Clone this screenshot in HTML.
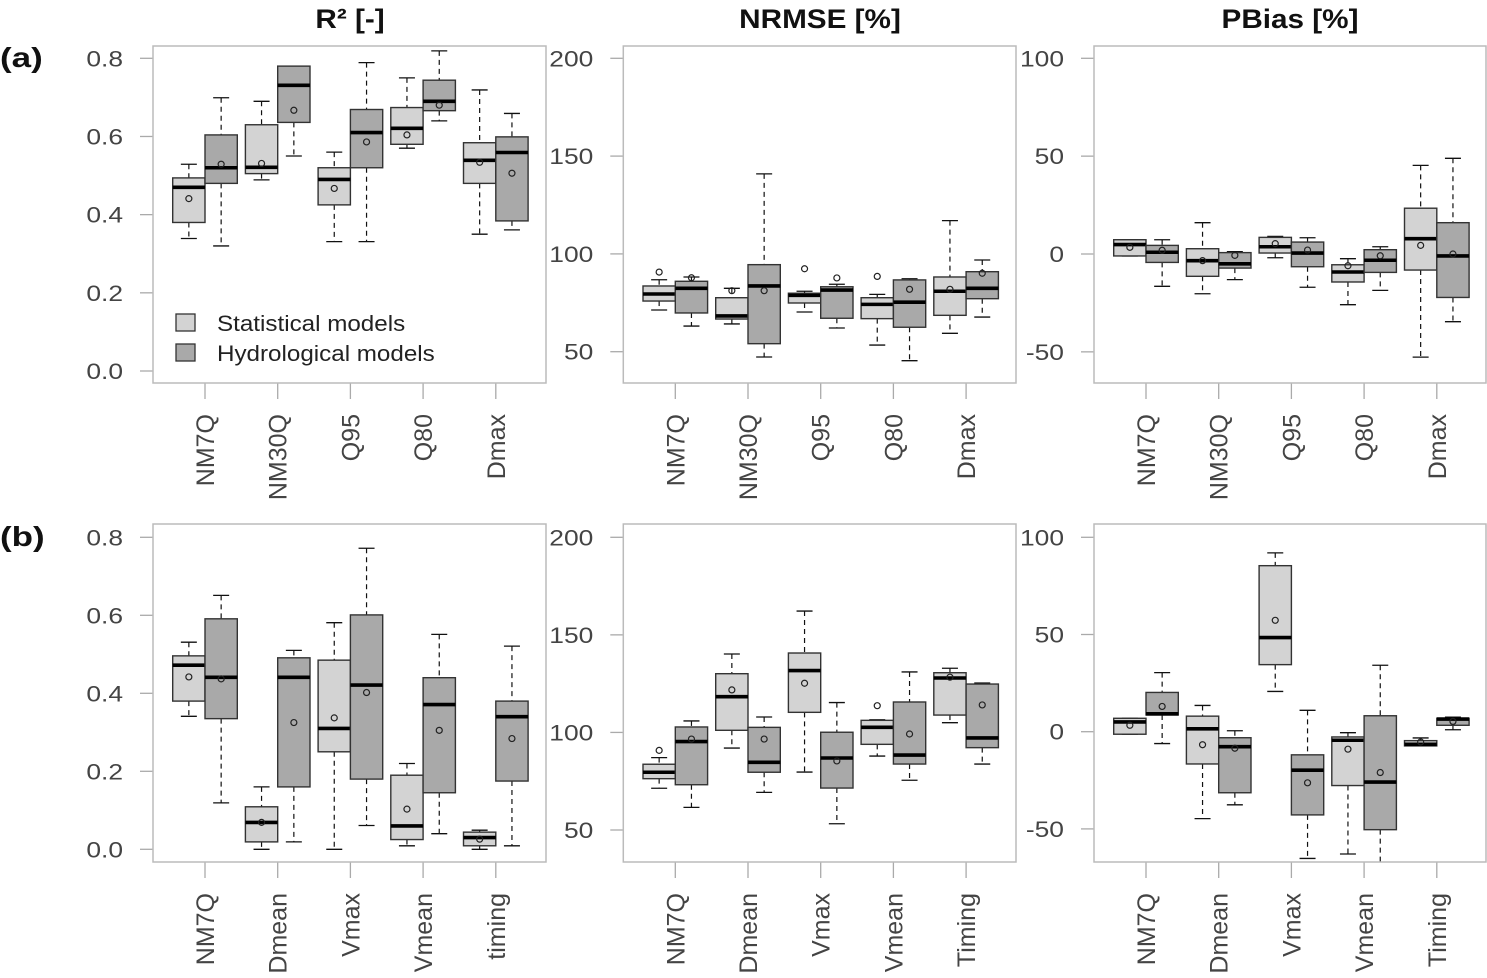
<!DOCTYPE html>
<html><head><meta charset="utf-8"><style>
html,body{margin:0;padding:0;background:#fff;}
svg{display:block;font-family:"Liberation Sans",Arial,sans-serif;}
</style></head><body>
<svg id="fig" width="1487" height="978" viewBox="0 0 1487 978" xmlns="http://www.w3.org/2000/svg">
<text transform="translate(350,28) scale(1.1,1)" font-size="27" font-weight="bold" text-anchor="middle" fill="#111">R² [-]</text>
<text transform="translate(820,28) scale(1.1,1)" font-size="27" font-weight="bold" text-anchor="middle" fill="#111">NRMSE [%]</text>
<text transform="translate(1290,28) scale(1.1,1)" font-size="27" font-weight="bold" text-anchor="middle" fill="#111">PBias [%]</text>
<text transform="translate(0,67) scale(1.25,1)" font-size="28" font-weight="bold" fill="#111">(a)</text>
<text transform="translate(0,546) scale(1.25,1)" font-size="28" font-weight="bold" fill="#111">(b)</text>
</svg>
<script>
// categories
const catsA = ["NM7Q","NM30Q","Q95","Q80","Dmax"];
const catsB1 = ["NM7Q","Dmean","Vmax","Vmean","timing"];
const catsB = ["NM7Q","Dmean","Vmax","Vmean","Timing"];
// tick labels
const ticksR2 = [0,0.2,0.4,0.6,0.8];
const ticksNRMSE = [50,100,150,200];
const ticksPB = [-50,0,50,100];
// stats: [lowWhisker, q1, median, q3, highWhisker, mean]
const a1Stat = [[0.339,0.380,0.470,0.494,0.529,0.441],[0.489,0.505,0.521,0.630,0.690,0.531],[0.331,0.425,0.490,0.520,0.560,0.467],[0.570,0.580,0.621,0.674,0.750,0.604],[0.350,0.480,0.539,0.584,0.719,0.534]];
const a1Hyd = [[0.320,0.480,0.520,0.604,0.699,0.529],[0.550,0.636,0.731,0.780,0.780,0.667],[0.331,0.520,0.610,0.669,0.789,0.586],[0.640,0.666,0.690,0.744,0.819,0.680],[0.361,0.384,0.559,0.599,0.659,0.506]];
const a2Stat = [[71.3,75.9,79.5,83.6,86.8,90.7],[64.2,66.7,68.3,77.6,82.4,81.2],[70.3,74.9,78.8,79.9,80.9,92.4],[53.4,66.9,74.2,77.6,79.3,88.5],[59.4,68.6,80.9,88.2,117.0,81.9]];
const a2Hyd = [[63.1,69.8,82.4,86.0,88.2,87.8],[47.3,54.1,83.6,94.5,140.9,81.2],[62.1,67.1,81.5,83.2,84.5,87.7],[45.4,62.5,75.3,86.7,87.3,81.9],[67.7,77.1,82.4,90.9,96.9,90.1]];
const a3Stat = [[-1.0,-1.0,4.8,7.3,7.3,3.4],[-20.3,-11.4,-3.4,2.7,16.0,-3.4],[-1.9,0.5,3.7,8.5,9.0,5.3],[-25.9,-14.3,-9.2,-5.5,-2.4,-6.0],[-52.7,-8.2,7.8,23.4,45.3,4.4]];
const a3Hyd = [[-16.5,-4.3,0.9,4.4,7.3,1.9],[-13.1,-7.2,-5.0,0.7,1.2,-0.7],[-17.0,-6.5,0.5,6.1,8.3,2.0],[-18.6,-9.4,-3.2,2.2,3.7,-0.9],[-34.6,-22.2,-1.0,16.0,48.9,0.0]];
const b1Stat = [[0.341,0.380,0.472,0.496,0.531,0.442],[0.0,0.019,0.069,0.109,0.160,0.069],[0.0,0.250,0.310,0.485,0.581,0.337],[0.009,0.025,0.060,0.190,0.220,0.103],[0.0,0.009,0.030,0.044,0.049,0.026]];
const b1Hyd = [[0.119,0.335,0.441,0.591,0.651,0.437],[0.019,0.160,0.441,0.491,0.510,0.325],[0.061,0.180,0.421,0.601,0.772,0.402],[0.040,0.145,0.371,0.440,0.551,0.305],[0.009,0.175,0.340,0.380,0.521,0.284]];
const b2Stat = [[71.4,76.3,79.6,83.7,87.1,90.8],[92.0,101.1,118.3,130.1,140.2,121.8],[79.7,110.3,131.7,140.7,162.2,125.2],[87.9,93.9,102.6,106.2,106.5,113.7],[105.0,108.9,127.9,130.6,132.9,128.3]];
const b2Hyd = [[61.6,73.2,95.3,102.8,105.9,96.6],[69.3,79.6,84.7,102.6,107.9,96.6],[53.2,71.5,86.9,100.1,115.3,85.4],[75.5,83.8,88.4,115.6,131.0,99.2],[83.8,92.2,97.2,124.8,125.3,114.1]];
const b3Stat = [[-1.3,-1.3,5.0,6.9,6.9,3.3],[-44.7,-16.6,1.5,8.0,13.5,-6.7],[20.7,34.5,48.4,85.4,92.0,57.3],[-62.9,-27.7,-4.4,-2.7,-0.5,-9.0],[-7.3,-7.3,-6.5,-4.6,-3.2,-5.3]];
const b3Hyd = [[-6.1,8.6,9.2,20.2,30.4,13.0],[-37.6,-31.4,-7.7,-3.1,0.5,-8.5],[-65.2,-42.8,-19.8,-11.9,11.0,-26.3],[-72.0,-50.4,-25.9,8.2,34.2,-21.0],[1.0,3.3,6.5,6.9,7.5,5.3]];

const NS = "http://www.w3.org/2000/svg";
const svg = document.getElementById("fig");
function mk(tag, attrs, parent){const e=document.createElementNS(NS,tag);for(const k in attrs)e.setAttribute(k,attrs[k]);(parent||svg).appendChild(e);return e;}

function panel(name, left, top, right, bottom, v0, p0, v1, p1, ticks, fmt, cats, stat, hyd, legend){
  const g = mk("g",{});
  
  
  const y = v => p0 + (v - v0) * (p1 - p0) / (v1 - v0);
  const cid = name + "-clip";
  const cp = mk("clipPath",{id:cid},g); mk("rect",{x:left,y:top,width:right-left,height:bottom-top},cp);
  ticks.forEach(t=>{
    const ty=y(t);
    const tl = mk("line",{x1:left-13,x2:left,y1:ty,y2:ty,stroke:"#aaa","stroke-width":1.3},g);
    
    
    const tx = mk("text",{transform:"translate("+(left-30)+","+(ty+8)+") scale(1.2,1)","font-size":22,"text-anchor":"end",fill:"#444"},g);
    
    
    tx.textContent = fmt(t);
  });
  const plot = mk("g",{"clip-path":"url(#"+cid+")"},g);
  const bw = 32.3;
  cats.forEach((c,i)=>{
    const cx = left + 52 + i*72.7;
    const tk = mk("line",{x1:cx,x2:cx,y1:bottom,y2:bottom+16,stroke:"#aaa","stroke-width":1.3},g);
    
    
    const lx = cx+9, ly = bottom+31;
    const lab = mk("text",{x:lx,y:ly,"font-size":25,"text-anchor":"end",fill:"#444",transform:"rotate(-90 "+lx+" "+ly+")"},g);
    
    
    lab.textContent = c;
    [[stat[i],"#d3d3d3",cx-bw/2,"statistical"],[hyd[i],"#a9a9a9",cx+bw/2,"hydrological"]].forEach(([s,col,bx,kind])=>{
      const b = mk("g",{},plot);
      
      
      const dash={stroke:"#111","stroke-width":1.2,"stroke-dasharray":"5,4"};
      mk("line",Object.assign({x1:bx,x2:bx,y1:y(s[4]),y2:y(s[3])},dash),b);
      mk("line",Object.assign({x1:bx,x2:bx,y1:y(s[1]),y2:y(s[0])},dash),b);
      mk("line",{x1:bx-8,x2:bx+8,y1:y(s[4]),y2:y(s[4]),stroke:"#111","stroke-width":1.3},b);
      mk("line",{x1:bx-8,x2:bx+8,y1:y(s[0]),y2:y(s[0]),stroke:"#111","stroke-width":1.3},b);
      mk("rect",{x:bx-bw/2,y:y(s[3]),width:bw,height:Math.max(0.5,y(s[1])-y(s[3])),fill:col,stroke:"#333","stroke-width":1.4},b);
      mk("line",{x1:bx-bw/2,x2:bx+bw/2,y1:y(s[2]),y2:y(s[2]),stroke:"#000","stroke-width":3.6},b);
      mk("circle",{cx:bx,cy:y(s[5]),r:3,fill:"none",stroke:"#222","stroke-width":1.2},b);
    });
  });
  const fr = mk("rect",{x:left,y:top,width:right-left,height:bottom-top,fill:"none",stroke:"#bbb","stroke-width":1.5},g);
  
  
  if(legend){
    const lg = mk("g",{},g);
    
    
    [["Statistical models","#d3d3d3",314],["Hydrological models","#a9a9a9",344]].forEach(([t,col,yy])=>{
      const e = mk("g",{},lg);
      
      
      mk("rect",{x:176,y:yy,width:19,height:17,fill:col,stroke:"#333","stroke-width":1.3},e);
      const tx = mk("text",{transform:"translate(217,"+(yy+17)+") scale(1.1,1)","font-size":22,fill:"#222"},e);
      tx.textContent = t;
    });
  }
}
const f1 = v => v.toFixed(1), f0 = v => String(v);
panel("panel-a-r2",153,46,546,383,0,371,0.8,58.3,ticksR2,f1,catsA,a1Stat,a1Hyd,true);
panel("panel-a-nrmse",623.3,46,1016,383,50,351.7,200,58.3,ticksNRMSE,f0,catsA,a2Stat,a2Hyd,false);
panel("panel-a-pbias",1094,46,1486,383,0,254,100,58.3,ticksPB,f0,catsA,a3Stat,a3Hyd,false);
panel("panel-b-r2",153,524,546,862,0,849.3,0.8,537.3,ticksR2,f1,catsB1,b1Stat,b1Hyd,false);
panel("panel-b-nrmse",623.3,524,1016,862,50,830,200,537.3,ticksNRMSE,f0,catsB,b2Stat,b2Hyd,false);
panel("panel-b-pbias",1094,524,1486,862,0,731.7,100,537.3,ticksPB,f0,catsB,b3Stat,b3Hyd,false);
</script>
</body></html>
